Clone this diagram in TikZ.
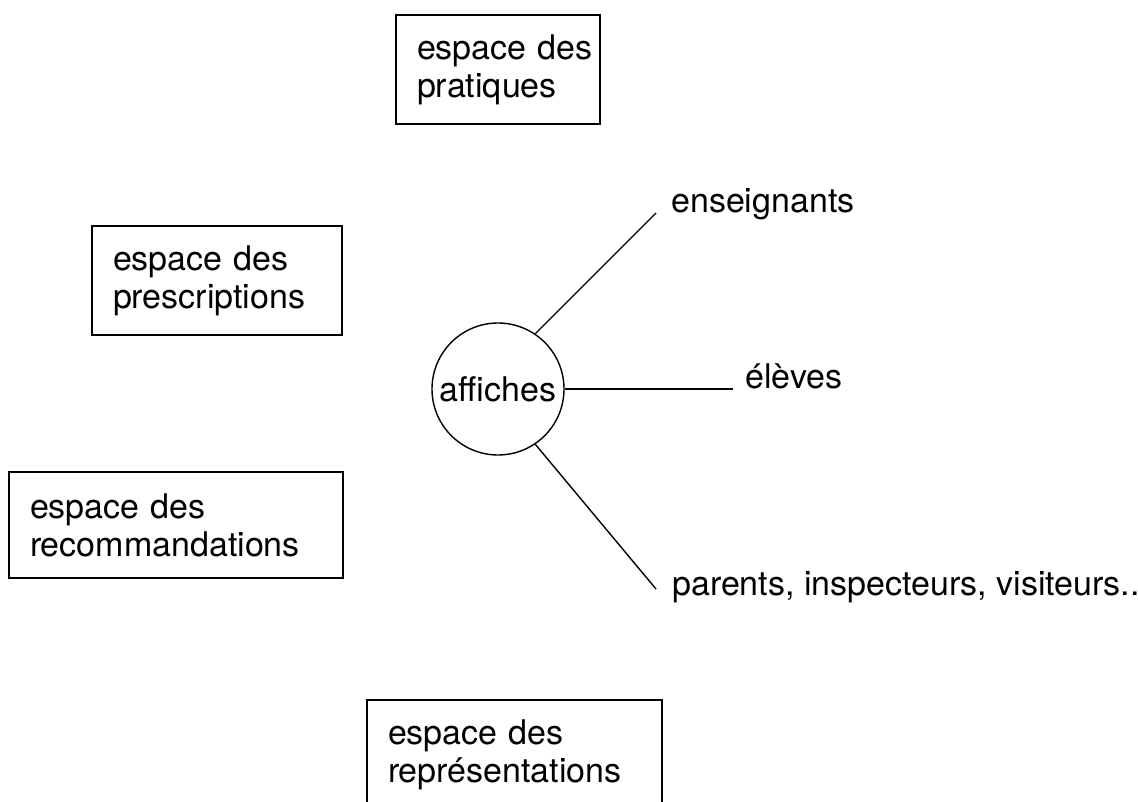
\documentclass[tikz,border=0pt]{standalone}
\usepackage{fontspec}
\setmainfont{TeX Gyre Heros}
\newcommand{\indl}{\hspace*{21pt}}
\begin{document}
\begin{tikzpicture}[x=1pt,y=-1pt,
  every node/.style={font=\fontsize{34}{38}\selectfont},
  espbox/.style={draw=black, line width=2pt, rectangle, align=left, inner xsep=0pt, inner ysep=0pt},
  hub/.style={draw=black, line width=1.4pt, circle, minimum size=132pt, inner sep=0pt},
  lbl/.style={inner sep=0pt, anchor=base west},
  link/.style={draw=black, line width=1.4pt}
]
\clip (0,0) rectangle (1138,802);
\fill[white] (0,0) rectangle (1138,802);

\node[espbox, minimum width=204pt, minimum height=109pt, text width=204pt] (prat) at (498,69.5) {\indl espace des\\\indl pratiques};
\node[espbox, minimum width=250pt, minimum height=109pt, text width=250pt] (presc) at (217,280.5) {\indl espace des\\\indl prescriptions};
\node[espbox, minimum width=334pt, minimum height=106pt, text width=334pt] (recom) at (176,525) {\indl espace des\\\indl recommandations};
\node[espbox, minimum width=295pt, minimum height=110pt, text width=295pt] (repr) at (514.5,755) {\indl espace des\\\indl représentations};

\node[hub] (aff) at (498,389) {affiches};

\node[lbl] (ens) at (671,213) {enseignants};
\node[lbl] (elv) at (745,388) {élèves};
\node[lbl] (par) at (672,595) {parents, inspecteurs, visiteurs..};

\draw[link] (aff.56) -- ([xshift=-15pt]ens.base west);
\draw[link] (aff.east) -- ([xshift=-12pt]elv.base west |- aff.east);
\draw[link] (aff.-56) -- ([xshift=-16pt,yshift=6pt]par.base west);
\end{tikzpicture}
\end{document}
